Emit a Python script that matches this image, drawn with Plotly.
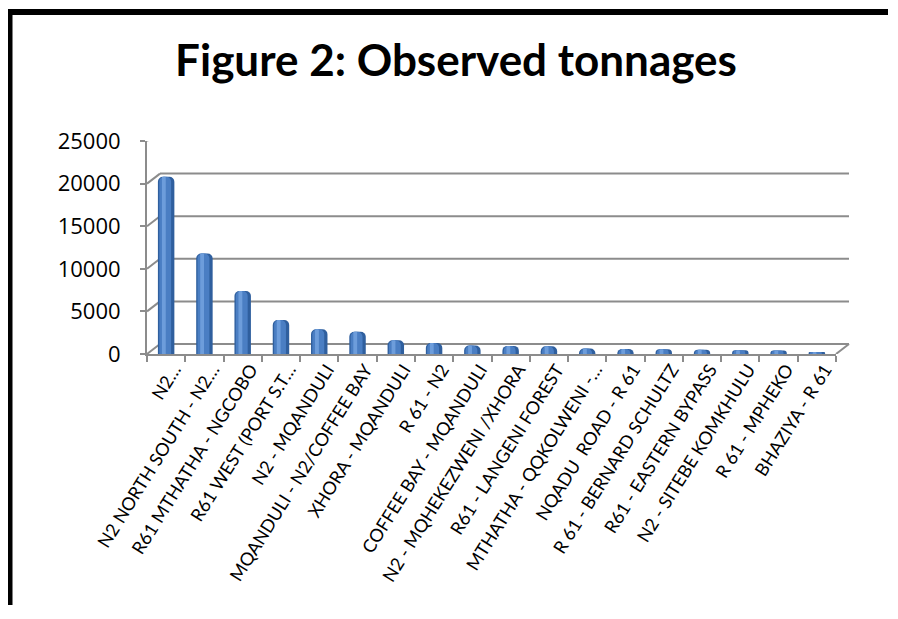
import plotly.graph_objects as go

categories = [
    "N2…",
    "N2 NORTH SOUTH - N2…",
    "R61 MTHATHA - NGCOBO",
    "R61 WEST (PORT S.T…",
    "N2 - MQANDULI",
    "MQANDULI - N2/COFFEE BAY",
    "XHORA - MQANDULI",
    "R 61 - N2",
    "COFFEE BAY - MQANDULI",
    "N2 - MQHEKEZWENI /XHORA",
    "R61 - LANGENI FOREST",
    "MTHATHA - QQKOLWENI -…",
    "NQADU  ROAD - R 61",
    "R 61 - BERNARD SCHULTZ",
    "R61 - EASTERN BYPASS",
    "N2 - SITEBE KOMKHULU",
    "R 61 - MPHEKO",
    "BHAZIYA - R 61",
]
tonnages = [20800, 11800, 7400, 4000, 2900, 2600, 1600, 1300, 1000, 950, 900,
            650, 600, 550, 500, 450, 400, 200]
y_ticks = [0, 5000, 10000, 15000, 20000, 25000]
y_tick_labels = ["0", "5000", "10000", "15000", "20000", "25000"]

OFF = 8                      # page body margin
W, H = 898 - 2 * OFF - 2, 619 - 2 * OFF - 6
ML = 147 - OFF
MT = 141 - OFF
MR = W - (836 - OFF)
MB = H - (354 - OFF)
PLOT_W = W - ML - MR
DX, DY = 13, 10              # 3-D depth offset in pixels
GRID = "#8c8c8c"
FONT = "Lato"
NUM_FONT = "Open Sans"

fig = go.Figure()
# cylinder-like bars: dark body, mid tone, highlight
fig.add_trace(go.Bar(x=categories, y=tonnages, width=0.43,
                     marker=dict(color="#2f5f9e", line=dict(width=0), cornerradius=5)))
fig.add_trace(go.Bar(x=categories, y=tonnages, width=0.31, offset=-0.18,
                     marker=dict(color="#4a7ec3", line=dict(width=0), cornerradius=5)))
fig.add_trace(go.Bar(x=categories, y=tonnages, width=0.1, offset=-0.11,
                     marker=dict(color="#6d9ddb", line=dict(width=0), cornerradius=3)))

shapes = []
for v in y_ticks:
    # back-wall gridline
    shapes.append(dict(type="line", xref="x domain", yref="y",
                       xsizemode="pixel", ysizemode="pixel",
                       xanchor=0, yanchor=v,
                       x0=DX, x1=DX + PLOT_W, y0=DY, y1=DY,
                       line=dict(color=GRID, width=2), layer="below"))
    # left-wall connector
    shapes.append(dict(type="line", xref="x domain", yref="y",
                       xsizemode="pixel", ysizemode="pixel",
                       xanchor=0, yanchor=v,
                       x0=0, x1=DX, y0=0, y1=DY,
                       line=dict(color=GRID, width=2), layer="below"))
# floor right edge
shapes.append(dict(type="line", xref="x domain", yref="y",
                   xsizemode="pixel", ysizemode="pixel",
                   xanchor=1, yanchor=0,
                   x0=0, x1=DX, y0=0, y1=DY,
                   line=dict(color=GRID, width=2), layer="below"))
# black page frame (left and top edges) as filled bands
px = lambda p: (p - OFF - ML) / PLOT_W
py = lambda p: (H - MB - (p - OFF)) / (H - MT - MB)
shapes.append(dict(type="rect", xref="paper", yref="paper",
                   x0=px(7), x1=px(12.5), y0=py(9), y1=py(H + OFF),
                   fillcolor="black", line=dict(width=0)))
shapes.append(dict(type="rect", xref="paper", yref="paper",
                   x0=px(7), x1=px(W + OFF), y0=py(9), y1=py(15),
                   fillcolor="black", line=dict(width=0)))

fig.update_layout(
    width=W, height=H,
    margin=dict(l=ML, r=MR, t=MT, b=MB, autoexpand=False),
    paper_bgcolor="white", plot_bgcolor="rgba(0,0,0,0)",
    barmode="overlay", showlegend=False,
    font=dict(family=FONT, color="black"),
    title=dict(text="<b>Figure 2: Observed tonnages</b>", xref="container", yref="container",
               x=(456 - OFF) / W, y=1 - (61 - OFF) / H, xanchor="center", yanchor="middle",
               font=dict(family=FONT, size=44, color="black")),
    shapes=shapes,
)
fig.update_xaxes(type="category", range=[-0.5, len(categories) - 0.5],
                 showgrid=False, showline=True, linecolor=GRID, linewidth=2,
                 ticks="outside", tickson="boundaries", ticklen=6, tickcolor=GRID,
                 tickwidth=2, tickangle=-58, tickfont=dict(family=FONT, size=18, color="black"),
                 ticklabelshift=8, ticklabelstandoff=-4,
                 automargin=False, zeroline=False)
fig.update_yaxes(range=[0, 25000], tickvals=y_ticks, ticktext=y_tick_labels, showgrid=False,
                 showline=True, linecolor=GRID, linewidth=2,
                 ticks="outside", ticklen=5, tickcolor=GRID, tickwidth=2,
                 tickfont=dict(family=NUM_FONT, size=22, color="black"),
                 automargin=False, zeroline=False, ticklabelstandoff=15)

fig.write_html("out.html")
